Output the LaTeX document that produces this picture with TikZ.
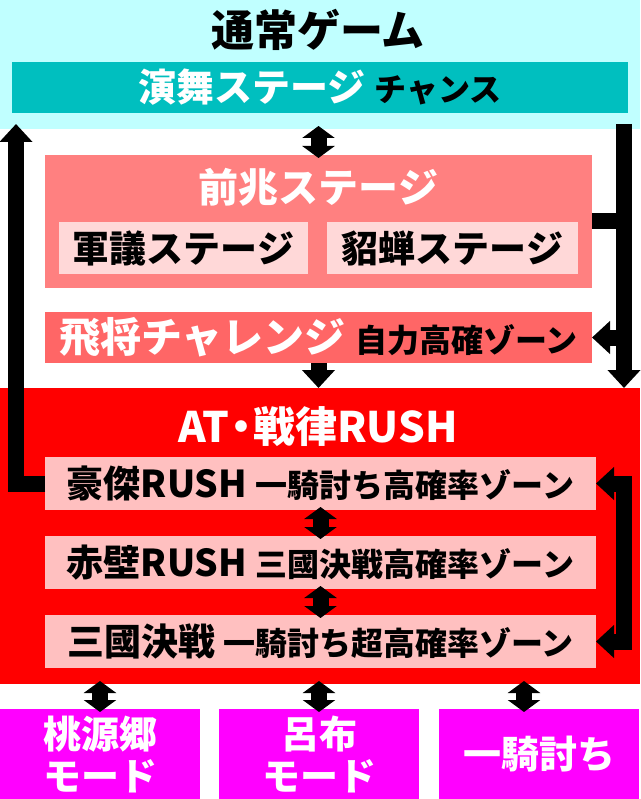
\documentclass[tikz,border=0pt]{standalone}
\usepackage{fontspec}
\setmainfont{Noto Sans CJK JP}
\usepackage{tikz}
\usetikzlibrary{arrows.meta, positioning}
\usepackage{xcolor}
\definecolor{normalcyan}{HTML}{C0FFFF}
\definecolor{enbuteal}{HTML}{00BFBF}
\definecolor{zenchopink}{HTML}{FF8080}
\definecolor{stagepink}{HTML}{FFD8D8}
\definecolor{hishored}{HTML}{FF6666}
\definecolor{atred}{HTML}{FF0000}
\definecolor{rushpink}{HTML}{FFC0C0}
\definecolor{modemagenta}{HTML}{FF00FF}
\newcommand{\subtxt}[1]{{\fontsize{32}{32}\selectfont #1}}

\begin{document}
\begin{tikzpicture}[
    x=1pt, y=-1pt,
    node distance=26pt,
    area/.style={inner sep=0pt, outer sep=0pt, anchor=north west},
    stage/.style={area, minimum height=52pt, font=\bfseries\fontsize{37}{37}\selectfont},
    heading/.style={inner sep=0pt, font=\bfseries\fontsize{40}{40}\selectfont, text=white},
    mode/.style={area, fill=modemagenta, minimum width=200pt, minimum height=90pt, align=center, text=white, font=\bfseries\fontsize{38}{42}\selectfont},
    arr/.style={line width=16pt, -{Triangle[length=18pt, width=32pt]}},
    arrboth/.style={line width=16pt, {Triangle[length=18pt, width=32pt]}-{Triangle[length=18pt, width=32pt]}},
    dbl/.style={line width=16pt, shorten <=-3pt, shorten >=-3pt, {Triangle[length=12pt, width=32pt]}-{Triangle[length=12pt, width=32pt]}},
]
\useasboundingbox (0,0) rectangle (640,799);

% Normal game - top
\node[area, fill=normalcyan, minimum width=640pt, minimum height=129pt] (normal) at (0,0) {};
\node[heading, text=black, font=\bfseries\fontsize{43}{43}\selectfont] (normaltitle) at (318,30) {通常ゲーム};
\node[area, fill=enbuteal, minimum width=616pt, minimum height=51pt, text=white, font=\bfseries\fontsize{38}{38}\selectfont] (enbu) at (12,62) {演舞ステージ \subtxt{\color{black}チャンス}};

% Pre-stages
\node[area, fill=zenchopink, minimum width=547pt, minimum height=133pt] (zencho) at (45,155) {};
\node[heading] (zenchotitle) at ([yshift=-32pt]zencho.north) {前兆ステージ};
\node[stage, fill=stagepink, minimum width=249pt] (gungi) at (59,222) {軍議ステージ};
\node[stage, fill=stagepink, minimum width=251pt] (chosen) at (327,222) {貂蝉ステージ};

% Hisho challenge
\node[area, fill=hishored, minimum width=547pt, minimum height=51pt, text=white, font=\bfseries\fontsize{41}{41}\selectfont] (hisho) at (45,312) {飛将チャレンジ \subtxt{\color{black}自力高確ゾーン}};

% AT - red area
\node[area, fill=atred, minimum width=640pt, minimum height=296pt] (at) at (0,388) {};
\node[heading, font=\bfseries\fontsize{42}{42}\selectfont] (attitle) at (318,427) {AT\kern-9pt・\kern-9pt戦律RUSH};
\node[stage, fill=rushpink, minimum width=551pt, minimum height=53pt] (goketsu) at (45,457) {豪傑RUSH \subtxt{一騎討ち高確率ゾーン}};
\node[stage, fill=rushpink, minimum width=551pt, minimum height=53pt, below=of goketsu] (sekiheki) {赤壁RUSH \subtxt{三國決戦高確率ゾーン}};
\node[stage, fill=rushpink, minimum width=551pt, minimum height=53pt, below=of sekiheki] (sangoku) {三國決戦 \subtxt{一騎討ち超高確率ゾーン}};

% Modes - bottom
\node[mode] (togenkyo) at (0,709) {桃源郷\\モード};
\node[mode, right=19pt of togenkyo] (ryofu) {呂布\\モード};
\node[mode, right=20pt of ryofu] (ikki) {一騎討ち};

% Arrows
\coordinate (lefttop) at (16,124);
\coordinate (righttop) at (624,124);
\coordinate (ikkitop) at ([xshift=-15pt]ikki.north);
\draw[dbl] (zencho.north |- normal.south) -- (zencho.north);
\draw[arr] (goketsu.west) -| (lefttop);
\draw[arr] (righttop) -- (righttop |- at.north);
\draw[line width=16pt] (zencho.east) -- (righttop |- zencho.east);
\draw[arr] (righttop |- hisho.east) -- (hisho.east);
\draw[arr] (hisho.south) -- (hisho.south |- at.north);
\draw[dbl] (goketsu.south) -- (sekiheki.north);
\draw[dbl] (sekiheki.south) -- (sangoku.north);
\draw[arrboth] (goketsu.east) -- (goketsu.east -| righttop) -- (sangoku.east -| righttop) -- (sangoku.east);
\foreach \m in {togenkyo.north, ryofu.north, ikkitop}
    \draw[dbl] (\m |- at.south) -- (\m);

\end{tikzpicture}
\end{document}
